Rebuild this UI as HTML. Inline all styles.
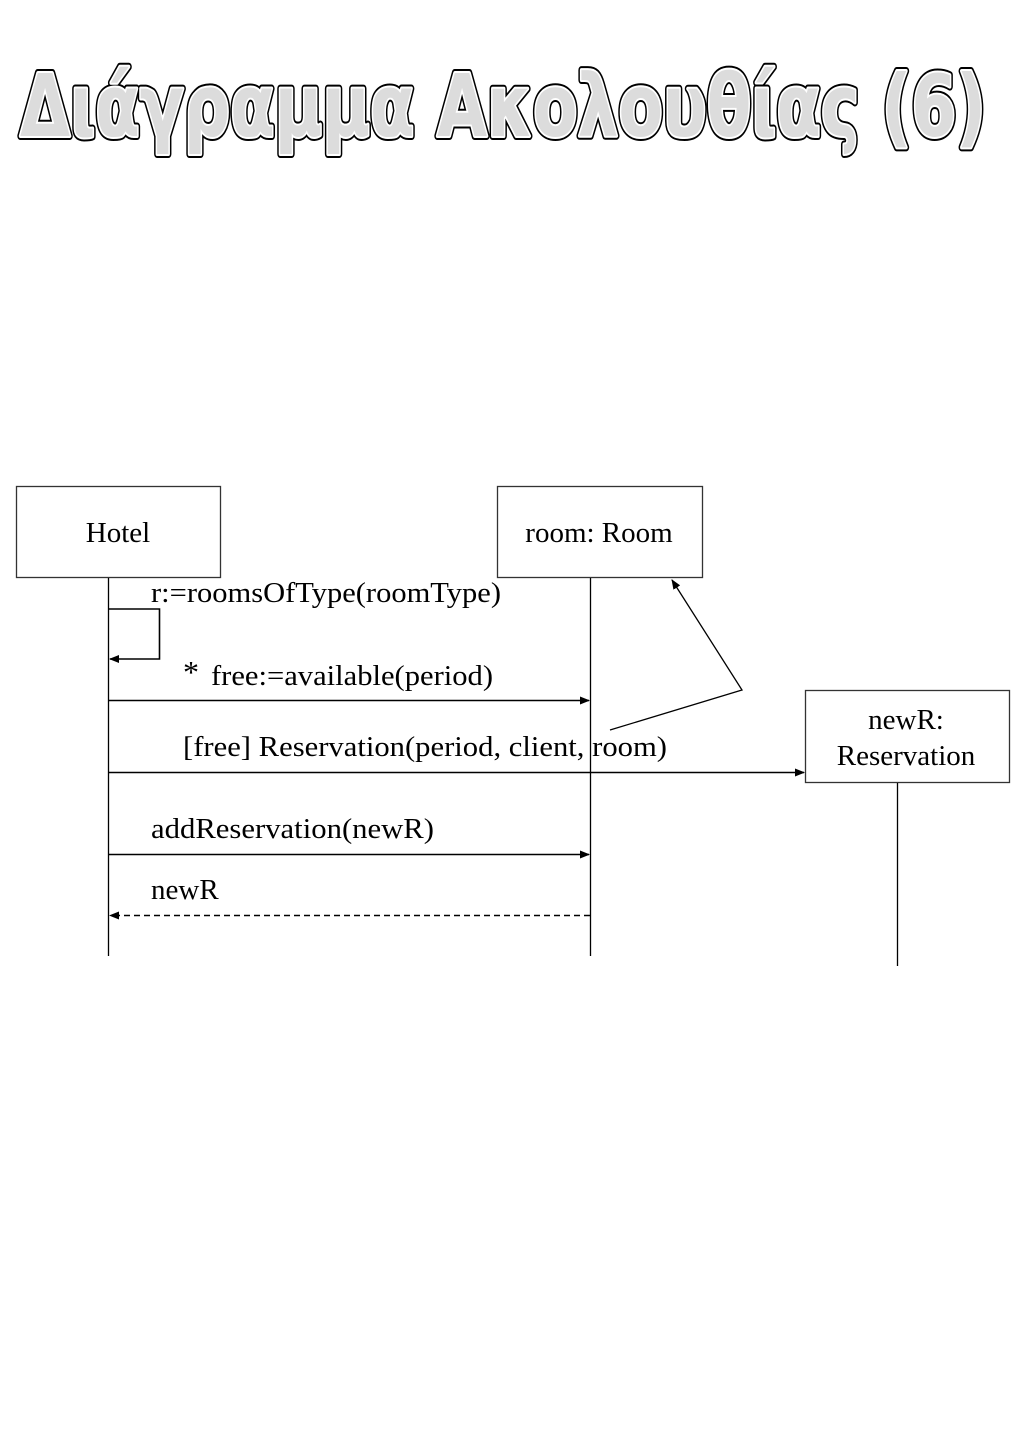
<!DOCTYPE html>
<html><head><meta charset="utf-8"><style>
html,body{margin:0;padding:0;background:#fff;}
svg{display:block;}
</style></head><body>
<svg width="1024" height="1448" viewBox="0 0 1024 1448" xmlns="http://www.w3.org/2000/svg">
<defs>
<marker id="a" markerWidth="10" markerHeight="8" refX="9" refY="4" orient="auto" markerUnits="userSpaceOnUse">
<path d="M0,0 L10,4 L0,8 Z" fill="#000"/></marker>
</defs>
<g>
<text x="20" y="136" textLength="966" lengthAdjust="spacingAndGlyphs" font-family="'DejaVu Sans', sans-serif" font-weight="bold" font-size="86" fill="none" stroke="#000" stroke-width="8" stroke-linejoin="round">Διάγραμμα Ακολουθίας (6)</text>
<text x="20" y="136" textLength="966" lengthAdjust="spacingAndGlyphs" font-family="'DejaVu Sans', sans-serif" font-weight="bold" font-size="86" fill="none" stroke="#fff" stroke-width="4" stroke-linejoin="round">Διάγραμμα Ακολουθίας (6)</text>
<text x="20" y="136" textLength="966" lengthAdjust="spacingAndGlyphs" font-family="'DejaVu Sans', sans-serif" font-weight="bold" font-size="86" fill="#dcdcdc">Διάγραμμα Ακολουθίας (6)</text>
</g>
<g fill="none" stroke="#000" stroke-width="1.3">
<rect x="16.5" y="486.5" width="204" height="91" stroke="#333"/>
<rect x="497.5" y="486.5" width="205" height="91" stroke="#333"/>
<rect x="805.5" y="690.5" width="204" height="92" stroke="#333"/>
<line x1="108.5" y1="578" x2="108.5" y2="956"/>
<line x1="590.5" y1="578" x2="590.5" y2="956"/>
<line x1="897.5" y1="783" x2="897.5" y2="966"/>
<polyline points="108.5,609 159.5,609 159.5,659 110,659" stroke-width="1.6" marker-end="url(#a)"/>
<line x1="108.5" y1="700.5" x2="589" y2="700.5" stroke-width="1.6" marker-end="url(#a)"/>
<line x1="108.5" y1="772.5" x2="804" y2="772.5" stroke-width="1.6" marker-end="url(#a)"/>
<line x1="108.5" y1="854.5" x2="589" y2="854.5" stroke-width="1.6" marker-end="url(#a)"/>
<line x1="590" y1="915.5" x2="110" y2="915.5" stroke-width="1.6" stroke-dasharray="6,4" marker-end="url(#a)"/>
<polyline points="610,730 742,690 672,580" marker-end="url(#a)"/>
</g>
<g font-family="'Liberation Serif', serif" font-size="29" fill="#000">
<text x="118" y="542" text-anchor="middle">Hotel</text>
<text x="599" y="542" text-anchor="middle">room: Room</text>
<text x="906" y="729" text-anchor="middle">newR:</text>
<text x="906" y="765" text-anchor="middle">Reservation</text>
<text x="151" y="602" textLength="350" lengthAdjust="spacingAndGlyphs">r:=roomsOfType(roomType)</text>
<text x="183" y="683" font-size="32">*</text>
<text x="211" y="685" textLength="282" lengthAdjust="spacingAndGlyphs">free:=available(period)</text>
<text x="183" y="756" textLength="484" lengthAdjust="spacingAndGlyphs">[free] Reservation(period, client, room)</text>
<text x="151" y="838" textLength="283" lengthAdjust="spacingAndGlyphs">addReservation(newR)</text>
<text x="151" y="899">newR</text>
</g>
</svg>
</body></html>
